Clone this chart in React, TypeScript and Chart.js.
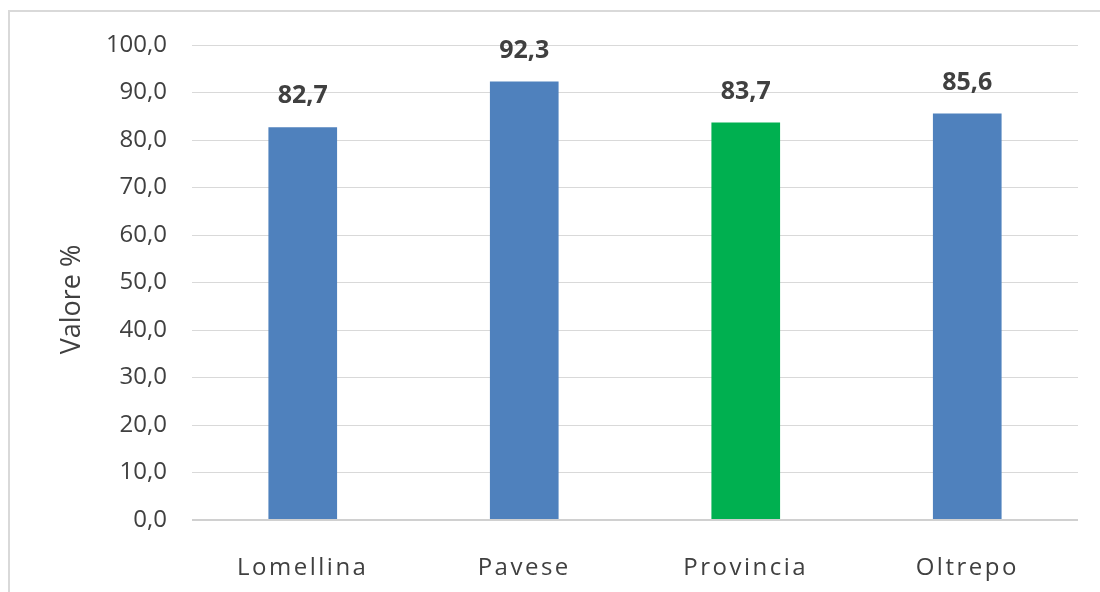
import React, { useEffect, useRef } from "react";
import { Chart, registerables } from "chart.js";

Chart.register(...registerables);

const categories = ["Lomellina", "Pavese", "Provincia", "Oltrepo"];
const values = [82.7, 92.3, 83.7, 85.6];
const barColors = ["#4F81BD", "#4F81BD", "#00B050", "#4F81BD"];
const yTickMin = 0;
const yTickMax = 100;
const yTickStep = 10;
const yTitle = "Valore %";

const FONT = "'Open Sans', 'Noto Sans', sans-serif";
const TEXT = "#404040";

const fmt = (v: number) => v.toFixed(1).replace(".", ",");

const dataLabels = {
  id: "dataLabels",
  afterDatasetsDraw(chart: any) {
    const ctx = chart.ctx;
    const meta = chart.getDatasetMeta(0);
    ctx.save();
    ctx.font = `bold 25px ${FONT}`;
    ctx.fillStyle = TEXT;
    ctx.textAlign = "center";
    ctx.textBaseline = "middle";
    meta.data.forEach((bar: any, i: number) => {
      ctx.fillText(fmt(values[i]), bar.x, bar.y - 31);
    });
    ctx.restore();
  },
};

const axisTweaks = {
  id: "axisTweaks",
  beforeDraw(chart: any) {
    const sx = chart.scales.x;
    if (sx && !sx._spacedWrapped) {
      const orig = sx.drawLabels.bind(sx);
      sx.drawLabels = (area: any) => {
        const ctx = chart.ctx;
        ctx.save();
        (ctx as any).letterSpacing = "2.5px";
        orig(area);
        ctx.restore();
      };
      sx._spacedWrapped = true;
    }
    const sy = chart.scales.y;
    if (sy && !sy._titleWrapped) {
      const origT = sy.drawTitle.bind(sy);
      sy.drawTitle = () => {
        const ctx = chart.ctx;
        ctx.save();
        ctx.translate(0, 17);
        origT();
        ctx.restore();
      };
      sy._titleWrapped = true;
    }
  },
};

export default function App() {
  const ref = useRef<HTMLCanvasElement | null>(null);
  useEffect(() => {
    if (!ref.current) return;
    const chart = new Chart(ref.current, {
      type: "bar",
      data: {
        labels: categories,
        datasets: [
          {
            data: values,
            backgroundColor: barColors,
            borderWidth: 0,
            categoryPercentage: 1,
            barPercentage: 0.31,
          },
        ],
      },
      options: {
        animation: false,
        responsive: false,
        maintainAspectRatio: false,
        layout: { padding: { top: 35, right: 22, left: 0, bottom: 0 } },
        plugins: {
          legend: { display: false },
          tooltip: { enabled: false },
        },
        scales: {
          x: {
            grid: { display: false, drawTicks: false },
            border: { display: false },
            ticks: {
              color: TEXT,
              font: { family: FONT, size: 24 },
              padding: 34,
              maxRotation: 0,
            },
            afterFit(scale: any) {
              scale.height = 72;
              scale.paddingLeft = 0;
              scale.paddingRight = 0;
            },
          },
          y: {
            min: yTickMin,
            max: yTickMax,
            grid: {
              color: (c: any) => (c.tick && c.tick.value === 0 ? "#D0D0D0" : "#D9D9D9"),
              lineWidth: (c: any) => (c.tick && c.tick.value === 0 ? 2 : 1),
              drawTicks: false,
            },
            border: { display: false },
            ticks: {
              stepSize: yTickStep,
              color: TEXT,
              font: { family: FONT, size: 24 },
              padding: 25,
              callback: (v: any) => fmt(Number(v)),
            },
            title: {
              display: true,
              text: yTitle,
              color: TEXT,
              font: { family: FONT, size: 27 },
              padding: { top: 48, bottom: 0 },
            },
            afterFit(scale: any) {
              scale.width = 184;
              scale.paddingTop = 0;
              scale.paddingBottom = 0;
            },
          },
        },
      },
      plugins: [dataLabels, axisTweaks],
    });
    return () => chart.destroy();
  }, []);

  return (
    <div
      style={{
        position: "absolute",
        left: 0,
        top: 0,
        width: 1100,
        height: 592,
        overflow: "hidden",
        background: "#fff",
      }}
    >
      <div
        style={{
          position: "absolute",
          left: 8,
          top: 10,
          width: 1100,
          height: 600,
          border: "2px solid #D9D9D9",
          boxSizing: "border-box",
        }}
      />
      <canvas
        ref={ref}
        width={1092}
        height={582}
        style={{ position: "absolute", left: 8, top: 10, width: 1092, height: 582 }}
      />
    </div>
  );
}
